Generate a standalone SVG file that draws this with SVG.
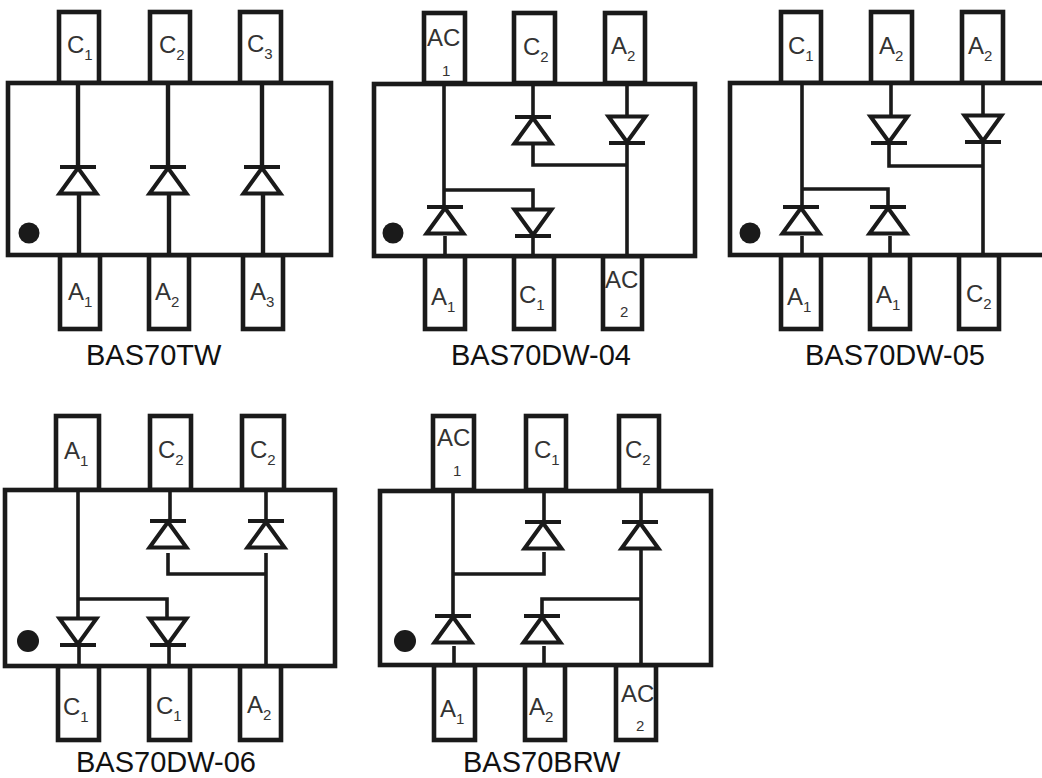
<svg xmlns="http://www.w3.org/2000/svg" xmlns:xlink="http://www.w3.org/1999/xlink" width="1042" height="778" viewBox="0 0 1042 778">
<style>
.b{fill:#fff;stroke:#1a1a1a;stroke-width:4.6}
.w{fill:none;stroke:#1a1a1a;stroke-width:3.6}
.d{fill:#1a1a1a}
.l{font-family:"Liberation Sans",Arial,sans-serif;font-size:24px;fill:#333}
.s{font-size:15px}
.n{font-family:"Liberation Sans",Arial,sans-serif;font-size:15px;fill:#333}
.c{font-family:"Liberation Sans",Arial,sans-serif;font-size:29px;fill:#111}
</style>
<defs>
<g id="up"><path d="M-18.5 26.5L0 1L18.5 26.5Z" fill="#fff" stroke="#1a1a1a" stroke-width="4"/><path d="M-18 0H18" stroke="#1a1a1a" stroke-width="4"/></g>
<g id="dn"><path d="M-18.5 -26.5L0 -1L18.5 -26.5Z" fill="#fff" stroke="#1a1a1a" stroke-width="4"/><path d="M-18 0H18" stroke="#1a1a1a" stroke-width="4"/></g>
</defs>
<rect width="1042" height="778" fill="#fff"/>

<g id="BAS70TW">
<g id="tw-pins">
<rect class="b" x="59" y="12" width="40" height="71"/><rect class="b" x="150" y="12" width="40" height="71"/><rect class="b" x="240" y="12" width="41" height="71"/>
<rect class="b" x="60" y="255" width="40" height="74"/><rect class="b" x="149" y="255" width="40" height="74"/><rect class="b" x="243" y="255" width="40" height="74"/>
</g>
<rect id="tw-body" class="b" x="8" y="83" width="323" height="172"/>
<g id="tw-connectors"><path class="w" style="stroke-width:4.4" d="M78 83V167M79 193V255M168 83V167M169 193V255M262 83V167M263 193V255"/></g>
<g id="tw-diodes"><use xlink:href="#up" href="#up" x="78" y="167"/><use xlink:href="#up" href="#up" x="168" y="167"/><use xlink:href="#up" href="#up" x="262" y="167"/></g>
<circle class="d" cx="29" cy="233" r="10.5"/>
<g id="tw-labels">
<text class="l" x="67" y="53">C<tspan class="s" dy="7">1</tspan></text>
<text class="l" x="159" y="53">C<tspan class="s" dy="7">2</tspan></text>
<text class="l" x="247" y="52">C<tspan class="s" dy="7">3</tspan></text>
<text class="l" x="68" y="300">A<tspan class="s" dy="7">1</tspan></text>
<text class="l" x="155" y="300">A<tspan class="s" dy="7">2</tspan></text>
<text class="l" x="250" y="300">A<tspan class="s" dy="7">3</tspan></text>
</g>
<text class="c" x="86" y="365">BAS70TW</text>
</g>

<g id="BAS70DW-04">
<g id="d04-pins">
<rect class="b" x="424" y="13" width="41" height="70"/><rect class="b" x="514" y="13" width="41" height="70"/><rect class="b" x="605" y="13" width="40" height="70"/>
<rect class="b" x="425" y="256" width="40" height="73"/><rect class="b" x="514" y="256" width="40" height="73"/><rect class="b" x="603" y="256" width="39" height="73"/>
</g>
<rect id="d04-body" class="b" x="374" y="84" width="321" height="172"/>
<g id="d04-connectors"><path class="w" d="M444 84V207M445 236V256M444 190H533V209M533 237V256M533 84V117M533 144V165H627M627 84V116M627 143V256"/></g>
<g id="d04-diodes"><use xlink:href="#up" href="#up" x="445" y="207"/><use xlink:href="#dn" href="#dn" x="533" y="236"/><use xlink:href="#up" href="#up" x="533" y="117"/><use xlink:href="#dn" href="#dn" x="627" y="143"/></g>
<circle class="d" cx="393" cy="233" r="10.5"/>
<g id="d04-labels">
<text class="l" x="427" y="46">AC</text><text class="n" x="442" y="76">1</text>
<text class="l" x="523" y="55">C<tspan class="s" dy="7">2</tspan></text>
<text class="l" x="611" y="54">A<tspan class="s" dy="7">2</tspan></text>
<text class="l" x="431" y="305">A<tspan class="s" dy="7">1</tspan></text>
<text class="l" x="519" y="303">C<tspan class="s" dy="7">1</tspan></text>
<text class="l" x="605" y="288">AC</text><text class="n" x="620" y="317">2</text>
</g>
<text class="c" x="451" y="365">BAS70DW-04</text>
</g>

<g id="BAS70DW-05">
<g id="d05-pins">
<rect class="b" x="781" y="12" width="40" height="71"/><rect class="b" x="871" y="12" width="41" height="71"/><rect class="b" x="962" y="12" width="41" height="71"/>
<rect class="b" x="781" y="255" width="40" height="74"/><rect class="b" x="870" y="255" width="40" height="74"/><rect class="b" x="959" y="255" width="40" height="74"/>
</g>
<rect id="d05-body" class="b" x="730" y="83" width="330" height="172"/>
<g id="d05-connectors"><path class="w" d="M802 83V207M802 236V255M802 189H888V207M890 236V255M891 83V116M889 143V166H983M983 83V255"/></g>
<g id="d05-diodes"><use xlink:href="#up" href="#up" x="801" y="207"/><use xlink:href="#up" href="#up" x="888" y="207"/><use xlink:href="#dn" href="#dn" x="889" y="143"/><use xlink:href="#dn" href="#dn" x="983" y="142"/></g>
<circle class="d" cx="750" cy="233" r="10.5"/>
<g id="d05-labels">
<text class="l" x="788" y="54">C<tspan class="s" dy="7">1</tspan></text>
<text class="l" x="879" y="54">A<tspan class="s" dy="7">2</tspan></text>
<text class="l" x="968" y="54">A<tspan class="s" dy="7">2</tspan></text>
<text class="l" x="787" y="305">A<tspan class="s" dy="7">1</tspan></text>
<text class="l" x="876" y="303">A<tspan class="s" dy="7">1</tspan></text>
<text class="l" x="966" y="302">C<tspan class="s" dy="7">2</tspan></text>
</g>
<text class="c" x="805" y="365">BAS70DW-05</text>
</g>

<g id="BAS70DW-06">
<g id="d06-pins">
<rect class="b" x="56" y="416" width="43" height="74"/><rect class="b" x="150" y="416" width="41" height="74"/><rect class="b" x="242" y="416" width="42" height="74"/>
<rect class="b" x="58" y="666" width="41" height="74"/><rect class="b" x="149" y="666" width="41" height="74"/><rect class="b" x="240" y="666" width="41" height="74"/>
</g>
<rect id="d06-body" class="b" x="5" y="490" width="330" height="176"/>
<g id="d06-connectors"><path class="w" d="M78 490V617M79 645V666M78 599H167V617M169 645V666M170 490V521M168 553V574H266M266 490V521M266 553V666"/></g>
<g id="d06-diodes"><use xlink:href="#dn" href="#dn" x="78" y="645"/><use xlink:href="#dn" href="#dn" x="168" y="645"/><use xlink:href="#up" href="#up" x="168" y="521"/><use xlink:href="#up" href="#up" x="266" y="521"/></g>
<circle class="d" cx="28" cy="641" r="11"/>
<g id="d06-labels">
<text class="l" x="64" y="459">A<tspan class="s" dy="7">1</tspan></text>
<text class="l" x="158" y="458">C<tspan class="s" dy="7">2</tspan></text>
<text class="l" x="250" y="458">C<tspan class="s" dy="7">2</tspan></text>
<text class="l" x="63" y="715">C<tspan class="s" dy="7">1</tspan></text>
<text class="l" x="156" y="714">C<tspan class="s" dy="7">1</tspan></text>
<text class="l" x="247" y="713">A<tspan class="s" dy="7">2</tspan></text>
</g>
<text class="c" x="76" y="771.5">BAS70DW-06</text>
</g>

<g id="BAS70BRW">
<g id="brw-pins">
<rect class="b" x="433" y="416" width="41" height="74"/><rect class="b" x="526" y="416" width="40" height="74"/><rect class="b" x="619" y="416" width="40" height="74"/>
<rect class="b" x="434" y="665" width="41" height="75"/><rect class="b" x="525" y="665" width="40" height="75"/><rect class="b" x="616" y="665" width="40" height="75"/>
</g>
<rect id="brw-body" class="b" x="380" y="491" width="331" height="174"/>
<g id="brw-connectors"><path class="w" d="M453 491V616M454 646V665M453 574H544V552M544 491V522M641 491V665M641 599H542V616M544 646V665"/></g>
<g id="brw-diodes"><use xlink:href="#up" href="#up" x="453" y="616"/><use xlink:href="#up" href="#up" x="543" y="522"/><use xlink:href="#up" href="#up" x="640" y="522"/><use xlink:href="#up" href="#up" x="542" y="616"/></g>
<circle class="d" cx="405" cy="641" r="11"/>
<g id="brw-labels">
<text class="l" x="437" y="446">AC</text><text class="n" x="453" y="476">1</text>
<text class="l" x="534" y="458">C<tspan class="s" dy="7">1</tspan></text>
<text class="l" x="625" y="458">C<tspan class="s" dy="7">2</tspan></text>
<text class="l" x="440" y="717">A<tspan class="s" dy="7">1</tspan></text>
<text class="l" x="529" y="715">A<tspan class="s" dy="7">2</tspan></text>
<text class="l" x="621" y="702">AC</text><text class="n" x="636" y="731">2</text>
</g>
<text class="c" x="463" y="771.5">BAS70BRW</text>
</g>
</svg>
